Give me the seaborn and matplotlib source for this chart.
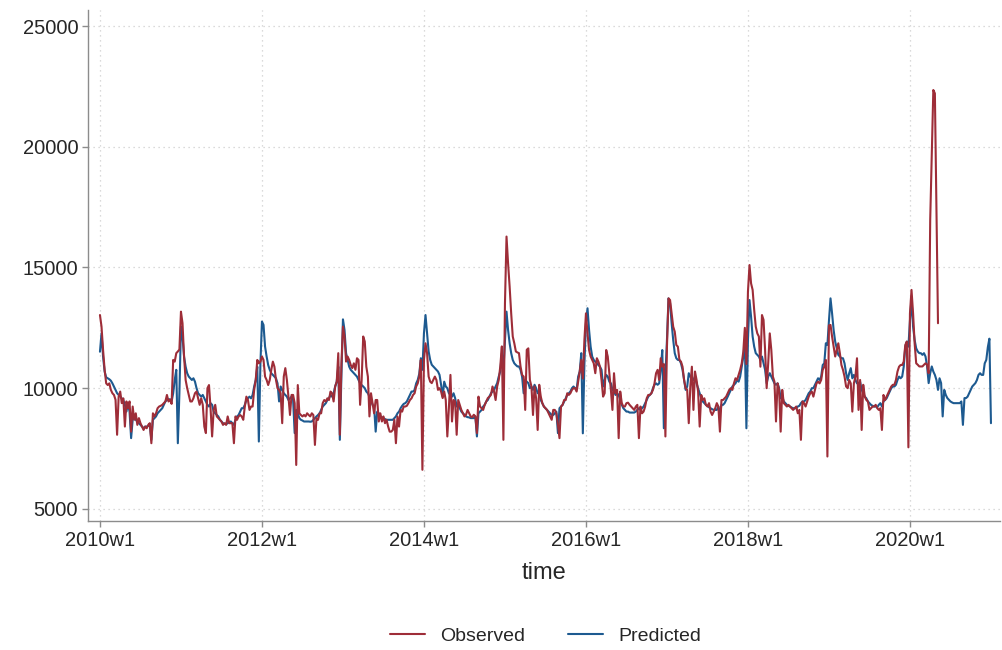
import matplotlib
matplotlib.use("Agg")
import matplotlib.pyplot as plt
import pandas as pd
import seaborn as sns

# weekly values, 52 weeks per year (Stata weekly calendar)
pred_2010 = [11510, 12270, 11300, 10690, 10450, 10410, 10370, 10310, 10200, 10070,
             9930, 9790, 9720, 9650, 9580, 9510, 9310, 9030, 9380, 9030,
             7930, 8690, 8830, 8690, 8620, 8550, 8480, 8410, 8340, 8410,
             8410, 8440, 8480, 7860, 8690, 8760, 8830, 8960, 9030, 9100,
             9170, 9310, 9450, 9510, 9540, 9540, 9450, 9790, 10340, 10760,
             7720, 9800]
obs_2010 = [13030, 12550, 11580, 10760, 10200, 10130, 10200, 9930, 9790, 9720,
            9520, 8070, 9650, 9860, 9380, 9580, 8410, 9450, 9170, 9450,
            8200, 9240, 8690, 8960, 8480, 8760, 8550, 8410, 8270, 8410,
            8340, 8480, 8550, 7720, 8960, 8830, 8960, 9170, 9240, 9270,
            9310, 9380, 9450, 9720, 9450, 9520, 9350, 11170, 11100, 11450,
            11520, 11600]

pred_2011 = [12550, 12130, 11300, 10890, 10620, 10480, 10410, 10340, 10410, 10270,
             10000, 9790, 9720, 9650, 9720, 9580, 9450, 9310, 9240, 9380,
             9310, 9030, 8960, 8890, 8830, 8690, 8620, 8550, 8520, 8510,
             8550, 8580, 8620, 8550, 8480, 8690, 8830, 8890, 9030, 9170,
             9170, 9310, 9510, 9580, 9650, 9580, 9720, 10070, 10340, 10890,
             7790, 11000]
obs_2011 = [13170, 12690, 11300, 10340, 10000, 9720, 9450, 9450, 9580, 9790,
            9860, 9580, 9310, 9580, 9310, 8410, 8140, 10000, 10130, 9170,
            8000, 9100, 9310, 8830, 8760, 8690, 8620, 8480, 8550, 8480,
            8830, 8550, 8550, 8550, 7720, 8830, 8690, 8830, 8890, 8830,
            8690, 9240, 9650, 9510, 9100, 9240, 9240, 9930, 10340, 11170,
            11030, 11100]

pred_2012 = [12760, 12620, 11720, 11310, 10960, 10760, 10620, 10550, 10480, 10410,
             10200, 9450, 10070, 9930, 9790, 9720, 9650, 9510, 9580, 9650,
             9510, 8140, 9100, 8960, 8760, 8690, 8660, 8620, 8620, 8620,
             8620, 8610, 8620, 8690, 8760, 8830, 8890, 8960, 9100, 9240,
             9310, 9380, 9510, 9580, 9720, 9650, 9790, 10070, 10270, 10890,
             7860, 10500]
obs_2012 = [11310, 11170, 10480, 10340, 10130, 10340, 10760, 11100, 10890, 10340,
            10000, 9930, 9790, 8550, 10480, 10830, 10340, 9650, 8890, 9720,
            9720, 9380, 6820, 10130, 8960, 8890, 8830, 8890, 8830, 8960,
            8890, 8830, 8960, 8890, 7650, 8760, 8690, 8960, 8960, 9380,
            9510, 9450, 9580, 9510, 9860, 9790, 9450, 10070, 10270, 11450,
            8070, 11000]

pred_2013 = [12850, 12410, 11450, 11170, 10890, 10760, 10690, 10620, 10550, 10480,
             10340, 10200, 10130, 10070, 10000, 9860, 9790, 9650, 9510, 9310,
             9240, 8200, 9030, 8960, 8830, 8800, 8760, 8720, 8690, 8690,
             8690, 8690, 8690, 8760, 8830, 8960, 9030, 9170, 9270, 9350,
             9380, 9450, 9580, 9720, 9860, 9860, 9930, 10200, 10340, 10600,
             11240, 10760]
obs_2013 = [12550, 12140, 11100, 11310, 11170, 10960, 10830, 11030, 10760, 11240,
            11170, 9310, 10340, 12140, 11930, 10890, 10480, 8830, 9790, 9380,
            8960, 9510, 9510, 8620, 8960, 8620, 8830, 8550, 8690, 8410,
            8200, 8200, 8270, 8690, 7720, 8830, 8410, 9100, 9030, 9240,
            9240, 9270, 9380, 9510, 9580, 9720, 9790, 10070, 10200, 10480,
            11170, 6620]

pred_2014 = [12280, 13030, 12280, 11520, 11170, 10970, 10900, 10830, 10760, 10690,
             10550, 10140, 9650, 10270, 10070, 10000, 9790, 9720, 9650, 9790,
             9590, 9240, 9310, 9170, 9030, 8960, 8900, 8830, 8800, 8790,
             8760, 8760, 8760, 8830, 8000, 8960, 9030, 9100, 9240, 9310,
             9450, 9510, 9650, 9790, 9860, 9930, 10070, 10210, 10480, 10690,
             11450, 10760]
obs_2014 = [11170, 11860, 11450, 10480, 10270, 10210, 10340, 10480, 10340, 9930,
            10000, 9860, 9590, 9860, 9510, 8000, 9170, 10550, 8620, 9510,
            9450, 8070, 9510, 9310, 9100, 8960, 8830, 8900, 9100, 8960,
            8830, 8800, 8900, 8830, 8140, 9650, 9240, 9170, 9100, 9310,
            9450, 9590, 9650, 9720, 10070, 9860, 9510, 10070, 10340, 10900,
            11730, 7860]

pred_2015 = [12000, 13170, 12410, 11860, 11450, 11170, 11030, 10960, 10900, 10900,
             10760, 10480, 9790, 10340, 10270, 10210, 10000, 10070, 9930, 10140,
             10000, 9790, 9860, 9510, 9380, 9240, 9170, 9100, 9030, 8960,
             8890, 8890, 8960, 9030, 8140, 9170, 9240, 9310, 9450, 9580,
             9720, 9790, 9860, 10000, 10070, 10000, 9930, 10480, 10690, 11450,
             8130, 11000]
obs_2015 = [13500, 16280, 15170, 14210, 13100, 12140, 11860, 11520, 11480, 11450,
            10900, 10550, 10480, 9100, 11590, 11650, 10340, 10070, 8890, 10070,
            9580, 8270, 10140, 9650, 9380, 9240, 9170, 9100, 8960, 8830,
            8690, 9100, 9100, 8960, 8500, 7930, 9240, 9310, 9510, 9510,
            9790, 9720, 9790, 9930, 10000, 10000, 9860, 10270, 10690, 11170,
            10400, 12000]

pred_2016 = [12690, 13310, 12410, 11720, 11310, 11170, 11100, 11030, 10960, 10890,
             10760, 10070, 10340, 10550, 10480, 10270, 10200, 9930, 9860, 9720,
             9790, 9720, 9510, 9310, 9170, 9100, 9030, 9030, 8990, 8990,
             8990, 8990, 9030, 9100, 9170, 9100, 9170, 9240, 9380, 9510,
             9650, 9720, 9790, 10000, 10140, 10200, 10140, 10200, 10760, 11580,
             8340, 10500]
obs_2016 = [13100, 12270, 11580, 11310, 11170, 11030, 10620, 11240, 11100, 10890,
            10340, 9650, 9790, 11580, 11310, 10620, 9930, 9100, 10620, 9790,
            9930, 7930, 9860, 9380, 9240, 9240, 9380, 9400, 9310, 9240,
            9170, 9100, 9240, 9310, 7930, 9240, 8960, 9030, 9240, 9580,
            9720, 9720, 9790, 9930, 10200, 10620, 10760, 10340, 11240, 10890,
            11000, 8000]

pred_2017 = [12000, 13720, 13520, 12690, 12000, 11450, 11240, 11170, 11170, 11030,
             10760, 10340, 9930, 10070, 10620, 10480, 10340, 10340, 10480, 10200,
             10000, 9790, 9580, 9450, 9380, 9310, 9270, 9210, 9170, 9130,
             9100, 9100, 9100, 9240, 8960, 9310, 9310, 9380, 9510, 9650,
             9790, 9930, 10070, 10140, 10200, 10340, 10270, 10480, 10890, 11300,
             11900, 8340]
obs_2017 = [11720, 13720, 13650, 13100, 12550, 12340, 11790, 11720, 11170, 11100,
            10890, 10340, 10000, 9930, 8550, 10070, 10890, 9100, 10690, 10340,
            9860, 8410, 9720, 9510, 9580, 9310, 9240, 9380, 9030, 8890,
            9030, 9170, 9380, 9240, 8200, 9510, 9510, 9580, 9650, 9790,
            9930, 10000, 9930, 10200, 10410, 10340, 10550, 10760, 11030, 11500,
            12500, 11000]

pred_2018 = [12000, 13650, 12960, 12140, 11720, 11450, 11380, 11310, 11170, 11310,
             11030, 10760, 10200, 10480, 10620, 10480, 10340, 10200, 10140, 10200,
             10000, 9580, 9650, 9450, 9380, 9310, 9270, 9240, 9200, 9170,
             9170, 9170, 9240, 9270, 9380, 9450, 9450, 9510, 9650, 9790,
             9860, 10000, 10000, 10140, 10270, 10410, 10340, 10480, 10960, 11030,
             11860, 11790]
obs_2018 = [14000, 15100, 14340, 14070, 13240, 12550, 12270, 12140, 10890, 13030,
            12830, 11580, 10000, 11030, 12270, 11580, 10480, 10270, 8620, 10200,
            9930, 8200, 9930, 9380, 9310, 9240, 9310, 9240, 9170, 9100,
            9170, 9240, 8960, 9100, 7860, 9450, 9380, 9240, 9450, 9650,
            9790, 9860, 9650, 9930, 10200, 10270, 10200, 10340, 10760, 10890,
            11170, 7170]

pred_2019 = [12800, 13720, 13100, 12410, 11930, 11650, 11380, 11310, 11240, 11240,
             11030, 10620, 10340, 10620, 10830, 10410, 10550, 10340, 10200, 10200,
             10270, 9930, 9790, 9650, 9580, 9450, 9380, 9310, 9270, 9240,
             9240, 9210, 9310, 9380, 9240, 9450, 9510, 9580, 9720, 9860,
             10000, 10070, 10070, 10140, 10340, 10480, 10410, 10480, 10890, 11720,
             11930, 11720]
obs_2019 = [12600, 12620, 12140, 11720, 11310, 11580, 11860, 11450, 10960, 10760,
            10480, 10070, 10000, 10340, 10200, 9030, 10200, 10480, 11240, 9100,
            10340, 8270, 10140, 9650, 9510, 9450, 9100, 9170, 9240, 9240,
            9310, 9170, 9100, 9170, 8270, 9720, 9510, 9650, 9790, 9930,
            10070, 10140, 10140, 10340, 10690, 10890, 10960, 10960, 11100, 11790,
            11930, 7550]

pred_2020 = [12800, 13700, 12550, 12000, 11650, 11520, 11450, 11450, 11380, 11450,
             11310, 10900, 10210, 10620, 10900, 10690, 10550, 10340, 9930, 10410,
             10210, 8830, 9930, 9720, 9590, 9520, 9450, 9410, 9380, 9380,
             9380, 9380, 9380, 9450, 8480, 9590, 9590, 9650, 9790, 9930,
             10070, 10140, 10210, 10340, 10550, 10620, 10550, 10550, 11030, 11170,
             11700, 12050]
obs_2020 = [13100, 14070, 13100, 11860, 11030, 10970, 10900, 10900, 10900, 10970,
            11030, 10970, 10620, 16970, 19730, 22350, 22210, 17450, 12690]
pred_2021 = [8550]

predicted = (pred_2010 + pred_2011 + pred_2012 + pred_2013 + pred_2014 + pred_2015
             + pred_2016 + pred_2017 + pred_2018 + pred_2019 + pred_2020 + pred_2021)
observed = (obs_2010 + obs_2011 + obs_2012 + obs_2013 + obs_2014 + obs_2015
            + obs_2016 + obs_2017 + obs_2018 + obs_2019 + obs_2020)

tick_weeks = [0, 104, 208, 312, 416, 520]
tick_labels = ["2010w1", "2012w1", "2014w1", "2016w1", "2018w1", "2020w1"]

df = pd.DataFrame({
    "time": list(range(len(observed))) + list(range(len(predicted))),
    "value": observed + predicted,
    "series": ["Observed"] * len(observed) + ["Predicted"] * len(predicted),
})

sns.set_theme(style="white")
plt.rcParams["font.family"] = ["Liberation Sans", "DejaVu Sans"]

red = "#9e2d38"
blue = "#1d5a90"

fig = plt.figure(figsize=(10.03, 6.5), dpi=100)
ax = fig.add_axes([0.0877, 0.1985, 0.9093, 0.786])

sns.lineplot(data=df[df.series == "Predicted"], x="time", y="value",
             color=blue, lw=1.5, estimator=None, ax=ax, label="Predicted")
sns.lineplot(data=df[df.series == "Observed"], x="time", y="value",
             color=red, lw=1.5, estimator=None, ax=ax, label="Observed")

ax.set_xlim(-7.7, 577.8)
ax.set_ylim(4500, 25660)
ax.set_xticks(tick_weeks)
ax.set_xticklabels(tick_labels)
ax.set_yticks([5000, 10000, 15000, 20000, 25000])
ax.set_yticklabels(["5000", "10000", "15000", "20000", "25000"])

ax.grid(True, color="#cfcfcf", linestyle=(0, (1, 3)), linewidth=0.9)
for s in ["top", "right"]:
    ax.spines[s].set_visible(False)
for s in ["left", "bottom"]:
    ax.spines[s].set_color("#8c8c8c")
    ax.spines[s].set_linewidth(1.0)
ax.tick_params(axis="both", which="major", length=4, width=1.0, color="#8c8c8c",
               labelsize=14.5, pad=3, direction="out", bottom=True, left=True)
ax.set_ylabel("")
ax.set_xlabel("time", fontsize=17, labelpad=9)

handles, labels = ax.get_legend_handles_labels()
order = [labels.index("Observed"), labels.index("Predicted")]
ax.get_legend().remove()
fig.legend([handles[i] for i in order], [labels[i] for i in order],
           loc="center", bbox_to_anchor=(0.544, 0.022), ncol=2, frameon=False,
           fontsize=14, handlelength=1.8, handletextpad=0.8, columnspacing=2.2)

fig.savefig("out.png", dpi=100)
